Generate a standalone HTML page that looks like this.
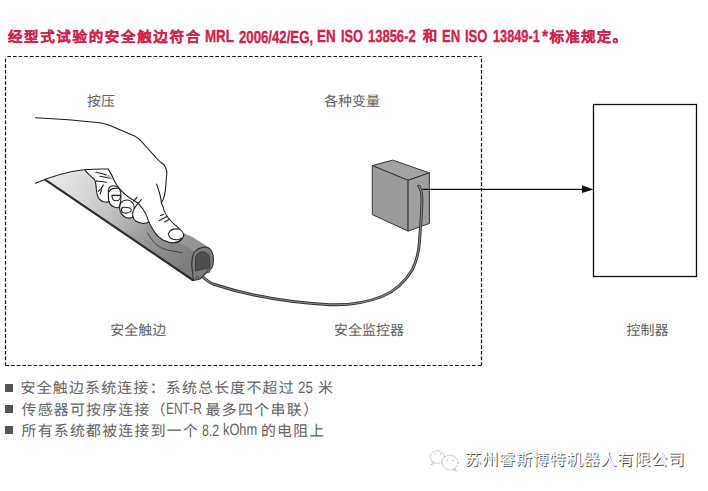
<!DOCTYPE html>
<html lang="zh-CN"><head><meta charset="utf-8">
<style>
html,body{margin:0;padding:0;background:#fff;width:708px;height:491px;overflow:hidden;position:relative}
body{font-family:"Liberation Sans",sans-serif}
.t{position:absolute;white-space:nowrap;line-height:20px;transform-origin:0 0;text-rendering:geometricPrecision}
.title{color:#d3214a;-webkit-text-stroke:0.15px #d3214a}
.titleL{color:#d3214a;-webkit-text-stroke:0.35px #d3214a}
.lab{color:#5f5f5f}
.bul{color:#646464}
.sq{position:absolute;left:5px;width:8px;height:8px;background:#555}
.wm{color:#fff;text-shadow:0.8px 0.8px 0 #4a4a4a}
svg{position:absolute;left:0;top:0}
</style></head><body>
<svg width="708" height="491" viewBox="0 0 708 491">
  <defs>
    <linearGradient id="sg" gradientUnits="userSpaceOnUse" x1="50" y1="172" x2="188" y2="262">
      <stop offset="0" stop-color="#ececec"/>
      <stop offset="0.28" stop-color="#d4d4d4"/>
      <stop offset="0.5" stop-color="#bababa"/>
      <stop offset="0.7" stop-color="#9a9a9a"/>
      <stop offset="0.85" stop-color="#8a8a8a"/>
      <stop offset="1" stop-color="#7e7e7e"/>
    </linearGradient>
    <linearGradient id="tg" gradientUnits="userSpaceOnUse" x1="185" y1="232" x2="172" y2="262">
      <stop offset="0" stop-color="#a2a2a2"/>
      <stop offset="1" stop-color="#7c7c7c"/>
    </linearGradient>
  </defs>
  <g fill="none" stroke="#111" stroke-width="1.2" stroke-dasharray="3.6 2.02">
    <path d="M5.5,56.5 H481.5" stroke-dashoffset="-1.9"/>
    <path d="M5.5,365.5 H481.5" stroke-dashoffset="0"/>
    <path d="M5.5,56.5 V365.5" stroke-dashoffset="-2.2"/>
    <path d="M481.5,56.5 V365.5" stroke-dashoffset="-2.2"/>
  </g>
  <rect x="593.5" y="104.5" width="103" height="172" fill="none" stroke="#111" stroke-width="1.3"/>
  <polygon points="582,185.3 593.5,189.4 582,193" fill="#111"/>
  <g stroke="#333" stroke-width="1" stroke-linejoin="round">
    <polygon points="372.3,165.6 392.7,160.1 429.4,172.9 408.1,180.3" fill="#a3a3a3"/>
    <polygon points="372.3,165.6 408.1,180.3 408.1,231.1 372.3,214.6" fill="#9b9b9b"/>
    <polygon points="408.1,180.3 429.4,172.9 429.4,223.4 408.1,231.1" fill="#a0a0a0"/>
  </g>
  <!-- cable -->
  <path d="M202,276 C206,280 208,282 213,284 C240,293 280,302 330,304.7 C350,305.5 368,302 382,296.5 C395,291 405,282 412.5,269.4 C417,260 419,250 419.5,241.2 C420.3,230 421.5,215 421.8,205 C422.3,195 421.5,189 418.7,186" fill="none" stroke="#333" stroke-width="2.9" stroke-linecap="round"/>
  <path d="M202,276 C206,280 208,282 213,284 C240,293 280,302 330,304.7 C350,305.5 368,302 382,296.5 C395,291 405,282 412.5,269.4 C417,260 419,250 419.5,241.2 C420.3,230 421.5,215 421.8,205 C422.3,195 421.5,189 418.7,186" fill="none" stroke="#8a8a8a" stroke-width="1.1" stroke-linecap="round"/>

  <line x1="422.4" y1="189.4" x2="584" y2="189.4" stroke="#111" stroke-width="1.2"/>
  <!-- strip -->
  <path d="M44.7,179.3 C55,176 70,171.5 84,169.6 L108,169 L150,195 L165,225 L183.9,233.6 C188,235 192,237 195,238.7 C200,241.5 205,245 209,248 L212,258 L210,269 L200,279 L193,281 Z" fill="url(#sg)"/>
  <!-- tube highlight -->
  <path d="M176,233 C180,234 183,233.8 183.9,233.6 C188,235 192,237 195,238.7 C200,241.5 205,245 209,248 L195,252 C190,248 182,244 176,241 Z" fill="#a8a8a8" opacity="0.55"/>
  <!-- fold line on tube -->
  <path d="M147.2,232.6 C148.5,235 150,237 151.3,238.7 C152.8,240.8 154,242.5 155.4,243.8 C157.5,245.5 159.5,247 161.5,247.9 C163.5,248.8 165.5,249.5 167.6,250 C172,251 177,251.8 182.5,252.8" fill="none" stroke="#333" stroke-width="0.8"/>
  <!-- strip dark bottom edge -->
  <path d="M44.7,179.3 L193.5,280.5" stroke="#2e2e2e" stroke-width="2.2" fill="none"/>
  <!-- end cap -->
  <path d="M193.5,280.5 L192,268 C191.5,262 192,255 195,251.5 C199,247 205.5,246 209.5,248.5 C213,251.5 213.8,258 213.2,263 C212.8,266.5 212,268.5 210,269.5 C209,272 207,273 205,274 L200,279 Z" fill="#7d7d7d" stroke="#333" stroke-width="1.1" stroke-linejoin="round"/>
  <path d="M195.5,271 L195.5,259.5 C195.5,254.5 198.5,251.8 202.5,251.8 C206.5,251.8 209.8,255 209.8,260 L209.8,267.5 Z" fill="#4f4f4f" stroke="#333" stroke-width="0.8"/>
  <circle cx="208.5" cy="271" r="1.6" fill="#777" stroke="#333" stroke-width="0.7"/>
  <circle cx="197.5" cy="278" r="1.6" fill="#777" stroke="#333" stroke-width="0.7"/>

  <!-- hand white fill -->
  <path d="M35.5,117.7 C55,118.6 80,120.5 99.6,122.8 C104,123.5 107,124.5 110,125.6 L135.7,136.6 C138,138 140,139.5 141.2,141.2 L157.7,159.5 C160,162 162.5,163.5 164.1,165 C165.5,167 166.5,169 166.8,171.4 C167,174 166.5,177 166.3,178 C166.2,180 166.1,181.5 166,183 C165.8,186 165.6,188 165.4,190.2 C165.1,192 164.9,193.5 164.5,195.1 C164,197 163.4,199 162.7,200.6 C162.3,201.5 161.8,202.3 161.4,203 C162,204.5 162.8,206 163.3,207.3 C163.6,208.3 163.8,209.3 164,210.4 C165,213 166,215 168,217.5 C170,220 172,222.5 174.4,224.4 C176,225.8 177.5,227 178.7,228.1 C180.5,229.5 183,232 183.9,234.6 C183.8,236.5 183,238 181.5,239.5 C179.5,241.5 177,242.6 173.7,242.8 C171,243 169,242.5 167.6,241.8 C165.5,241 164,240.5 162.5,239.7 C160.5,238.5 158.8,237.2 157.4,235.7 C155.5,233.5 153.8,231 152.3,228.5 C150.8,226 149.2,223 148.2,220.4 L148.9,222 C147,223 145,223.5 142.3,223.3 L135.6,221 C134,220 133,218 133,216.7 C131.5,217.8 128,218.5 124.5,216.8 C121.8,215 120.2,211 119.8,208 C119.5,207.7 119,207.5 118.4,207.4 C116,208 114,207.2 113,206.3 C110.5,204.5 109.4,202.5 109,201.5 C108.2,202 107.3,202.1 106.5,202.1 C104.5,202.1 103.5,202 102.5,201.4 C100.5,200.3 99.2,199.2 98.5,198.1 C97.3,196 96.8,193.5 96.6,191.5 C96.3,189 96.2,187 95.9,184.9 C95.6,183 95.2,181 94.6,179.6 C93,177.8 91,176.4 89.3,174.9 C87.8,173.5 86.4,171.8 85.3,170.3 C70,172 58,175 44,180 L35.5,183.2 Z" fill="#fff"/>
  <g fill="none" stroke="#1e1e1e" stroke-width="1.1" stroke-linecap="round" stroke-linejoin="round">
    <!-- arm top + back of hand + thumb -->
    <path d="M35.5,117.7 C55,118.6 80,120.5 99.6,122.8 C104,123.5 107,124.5 110,125.6 L135.7,136.6 C138,138 140,139.5 141.2,141.2 L157.7,159.5 C160,162 162.5,163.5 164.1,165 C165.5,167 166.5,169 166.8,171.4 C167,174 166.5,177 166.3,178 C166.2,180 166.1,181.5 166,183 C165.8,186 165.6,188 165.4,190.2 C165.1,192 164.9,193.5 164.5,195.1 C164,197 163.4,199 162.7,200.6 C162.3,201.5 161.8,202.3 161.4,203 C162,204.5 162.8,206 163.3,207.3 C163.6,208.3 163.8,209.3 164,210.4 C165,213 166,215 168,217.5 C170,220 172,222.5 174.4,224.4 C176,225.8 177.5,227 178.7,228.1 C180.5,229.5 183,232 183.9,234.6 C183.8,236.5 183,238 181.5,239.5 C179.5,241.5 177,242.6 173.7,242.8 C171,243 169,242.5 167.6,241.8 C165.5,241 164,240.5 162.5,239.7 C160.5,238.5 158.8,237.2 157.4,235.7 C155.5,233.5 153.8,231 152.3,228.5 C150.8,226 149.2,223 148.2,220.4 C147,217 146.5,214.5 145.2,212.7 C143.5,209.5 141.5,207 138.3,203.4 C135,201 132,199.5 129,197.5 C125,194.5 122,191.5 119.7,188.8 C117.5,186 115.8,183.5 114.4,180.9 C113.2,178 112,175 108.5,169.6"/>
    <!-- arm bottom line -->
    <path d="M35.5,183.2 C50,177 65,172 84,169.8 C92,169 100,168.8 108.5,169"/>
    <!-- thumb crease -->
    <path d="M156.6,184.1 C157.5,186.5 158.3,189 159,191.4 C159.8,194 160.4,196 160.8,198.2 C161,199.6 161.2,201 161.4,203"/>
    <path d="M160.7,215.6 L163.4,214.4 M159.2,220.5 L167.1,216.5 M164.4,222 L168.9,219.5"/>
    <!-- thumb nail -->
    <path d="M179.2,229.3 C177.5,228.8 175.5,228.8 173.7,229.1 C171.5,229.6 170.2,230.5 169.6,231.6 C168.6,233 168.4,234 168.6,235.1 C169.3,237 170.3,238 171.7,238.7 C173.5,239.6 175.5,239.9 177.8,239.7 C179.5,239.4 180.8,238.9 181.6,238.2"/>
    <!-- creases on index -->
    <path d="M133.8,201.2 L137,197.2 M137.8,204 L141.3,199.6"/>
    <!-- index tip -->
    <path d="M138.3,203.4 C136,205.5 135,207 134.2,208.8 C132.8,211 132.3,213.5 132.6,215.5 C133,218 134,220 135.6,221 C138,222.3 140,223 142.3,223.3 C144.5,223.5 146.8,223.2 148.9,222"/>
    <!-- lobe 3 -->
    <path d="M134.2,208.8 C134.5,206 133.8,204.3 132.5,202.5 C130,200 126,199.8 123.5,200.8 C121.5,201.5 120.3,203 119.8,205 C119.4,207 119.6,209.5 120.3,211.5 C121.5,214.5 123.5,216.5 126.5,217.7 C129,218.5 131.5,218 133,216.7"/>
    <path d="M122.5,207.5 C121,209 121,211.5 123,212.5 C125.5,213.5 129,213 130.8,211 C131.5,210 131.2,208.5 130,208 C127.5,207.5 124.5,207 122.5,207.5 Z"/>
    <!-- lobe 2 -->
    <path d="M119.9,205 C121,201 121.2,196.5 120.8,193 C120.5,190.5 119.5,188.8 117.8,187.4 C115.8,185.8 113,185.5 111,186.2 C109.5,186.8 108.6,188.2 108.4,190 C108.2,193.5 108.3,197.5 108.7,200.5 C109.3,203.5 110.8,205.5 113,206.6 C114.8,207.6 116.8,207.9 118.4,207.5 C119,207.3 119.5,206.8 119.9,206"/>
    <path d="M111.9,195.4 L120.6,195.4 C120.6,198.8 118.5,200.8 116.2,200.8 C113.7,200.8 112,198.8 111.9,195.4 Z"/>
    <path d="M109.1,191.7 C110,189.8 111.2,188.8 112.5,188.6 C114.3,188.2 116,188.1 117.7,188.3"/>
    <!-- finger 1 -->
    <path d="M85.3,170.3 C86.4,171.8 87.8,173.5 89.3,174.9 C91,176.4 93,177.8 94.6,179.6 C95.2,181 95.6,183 95.9,184.9 C96.2,187 96.3,189 96.6,191.5 C96.8,193.5 97.3,196 98.5,198.1 C99.2,199.2 100.5,200.3 102.5,201.4 C103.5,202 104.5,202.1 106.5,202.1 C107.3,202.1 108.2,202 109,201.5"/>
    <path d="M98.3,191.5 C99.3,190 100.5,189 101.5,188.6 M101.2,188.8 C102,187 102.7,186 103.3,184.9 M100.2,194 L101.5,190"/>
    <path d="M96,180.9 C99.5,181.3 103,181.6 106.5,182.2"/>
    <path d="M95.9,172.3 C99.5,173 103,173.8 106.5,174.9 M99.9,176.3 C103.5,176.8 107,177.4 110.5,178.2"/>
  </g>
  <path d="M106.5,174.5 C109,175 111,176 112.5,178.5 L113.2,180.5 C111,179.5 109,179 107,178.8 Z" fill="#999" opacity="0.6"/>
</svg>

<div class="sq" style="top:383.6px"></div>
<div class="sq" style="top:404.6px"></div>
<div class="sq" style="top:425.8px"></div>
<div class="t title" style="left:7.90px;top:28.20px;font-weight:bold;font-size:14.5px;letter-spacing:1.660px;">经型式试验的安全触边符合</div>
<div class="t titleL" style="left:204.83px;top:26.20px;font-weight:bold;font-size:17.4px;transform:scaleX(0.7676);">MRL</div>
<div class="t titleL" style="left:239.10px;top:27.20px;font-weight:bold;font-size:17.4px;transform:scaleX(0.7588);">2006/42/EG,</div>
<div class="t titleL" style="left:317.43px;top:26.20px;font-weight:bold;font-size:17.4px;transform:scaleX(0.7727);">EN</div>
<div class="t titleL" style="left:340.56px;top:26.20px;font-weight:bold;font-size:17.4px;transform:scaleX(0.7379);">ISO</div>
<div class="t titleL" style="left:368.45px;top:26.20px;font-weight:bold;font-size:17.4px;transform:scaleX(0.7460);">13856-2</div>
<div class="t title" style="left:422.70px;top:27.20px;font-weight:bold;font-size:14.5px;letter-spacing:1.660px;">和</div>
<div class="t titleL" style="left:441.75px;top:26.20px;font-weight:bold;font-size:17.4px;transform:scaleX(0.7545);">EN</div>
<div class="t titleL" style="left:465.05px;top:26.20px;font-weight:bold;font-size:17.4px;transform:scaleX(0.7483);">ISO</div>
<div class="t titleL" style="left:492.67px;top:26.20px;font-weight:bold;font-size:17.4px;transform:scaleX(0.7333);">13849-1</div>
<div class="t titleL" style="left:541.70px;top:26.20px;font-weight:bold;font-size:17.4px;transform:scaleX(0.9000);">*</div>
<div class="t title" style="left:549.40px;top:28.20px;font-weight:bold;font-size:14.5px;letter-spacing:1.300px;">标准规定。</div>
<div class="t lab" style="left:87.10px;top:91.20px;font-size:14px;">按压</div>
<div class="t lab" style="left:324.00px;top:91.40px;font-size:14px;">各种变量</div>
<div class="t lab" style="left:110.30px;top:320.10px;font-size:14px;">安全触边</div>
<div class="t lab" style="left:333.90px;top:320.30px;font-size:14px;">安全监控器</div>
<div class="t lab" style="left:626.50px;top:319.80px;font-size:14px;">控制器</div>
<div class="t bul" style="left:20.50px;top:379.40px;font-size:14.9px;letter-spacing:1.250px;">安全触边系统连接：系统总长度不超过</div>
<div class="t bul" style="left:297.99px;top:378.20px;font-size:16.5px;transform:scaleX(0.8118);">25</div>
<div class="t bul" style="left:317.90px;top:379.40px;font-size:14.9px;letter-spacing:1.250px;">米</div>
<div class="t bul" style="left:21.50px;top:400.60px;font-size:14.9px;letter-spacing:1.250px;">传感器可按序连接（</div>
<div class="t bul" style="left:165.78px;top:399.00px;font-size:16.5px;transform:scaleX(0.7250);">ENT-R</div>
<div class="t bul" style="left:205.40px;top:400.60px;font-size:14.9px;letter-spacing:1.400px;">最多四个串联）</div>
<div class="t bul" style="left:21.50px;top:422.00px;font-size:14.9px;letter-spacing:1.250px;">所有系统都被连接到一个</div>
<div class="t bul" style="left:202.10px;top:421.00px;font-size:16.5px;transform:scaleX(0.7435);">8.2</div>
<div class="t bul" style="left:222.92px;top:420.20px;font-size:16.5px;transform:scaleX(0.7762);">kOhm</div>
<div class="t bul" style="left:261.00px;top:422.00px;font-size:14.9px;letter-spacing:1.200px;">的电阻上</div>
<div class="t wm" style="left:465.20px;top:450.20px;font-size:16.2px;letter-spacing:0.720px;">苏州睿斯博特机器人有限公司</div>
<svg width="40" height="30" viewBox="0 0 40 30" style="left:425px;top:445px" fill="none" stroke="#9a9a9a" stroke-width="0.8" stroke-dasharray="1.6 1.1"><ellipse cx="12.5" cy="12" rx="7.2" ry="6.3"/><path d="M7.5,16.5 L6,20 L10,17.8"/><ellipse cx="25" cy="17.5" rx="8" ry="7.2" fill="#fff"/><path d="M29.5,23.5 L31.5,26 L27,24.3"/><circle cx="10" cy="8.8" r="0.6" fill="#999" stroke="none"/><circle cx="15.5" cy="8.8" r="0.6" fill="#999" stroke="none"/><circle cx="22.3" cy="15.5" r="0.6" fill="#999" stroke="none"/><circle cx="27.8" cy="15.5" r="0.6" fill="#999" stroke="none"/></svg>
</body></html>
